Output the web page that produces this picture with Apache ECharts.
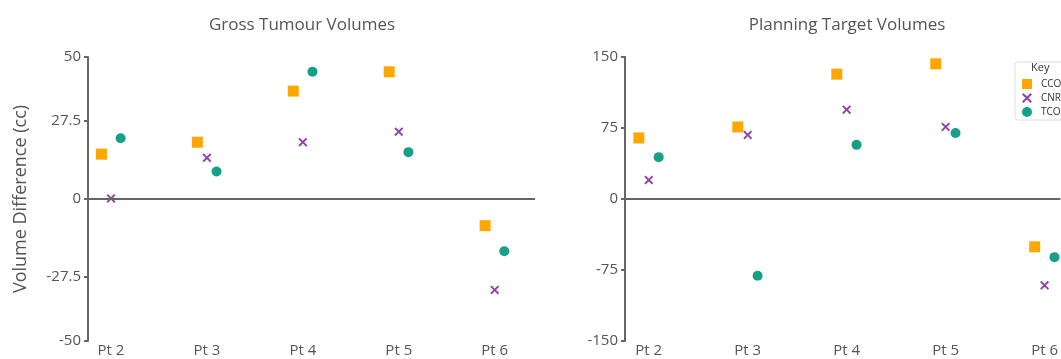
<!DOCTYPE html>
<html>
<head>
<meta charset="utf-8">
<script src="https://cdn.jsdelivr.net/npm/echarts@6/dist/echarts.min.js"></script>
<style>html,body{margin:0;padding:0;background:#fff}#c{width:1061px;height:359px}</style>
</head>
<body>
<div id="c"></div>
<script>
const categories = ['Pt 2', 'Pt 3', 'Pt 4', 'Pt 5', 'Pt 6'];
const seriesNames = ['CCO', 'CNR', 'TCO'];
// Gross Tumour Volumes
const gtvCCO = [15.8, 20.0, 38.0, 44.8, -9.4];
const gtvCNR = [0.2, 14.5, 20.0, 23.7, -32.0];
const gtvTCO = [21.4, 9.7, 44.8, 16.5, -18.4];
// Planning Target Volumes
const ptvCCO = [64.5, 76.1, 131.9, 142.8, -50.5];
const ptvCNR = [20.0, 67.7, 94.4, 76.1, -91.2];
const ptvTCO = [44.2, -81.0, 57.2, 69.8, -61.4];
const gtvTicks = [-50, -27.5, 0, 27.5, 50];
const ptvTicks = [-150, -75, 0, 75, 150];
const offsets = [-0.1, 0, 0.1];

const colors = ['#FFA600', '#8E44AD', '#16A085'];
const xPath = 'path://M1.5,0 L5,3.5 L8.5,0 L10,1.5 L6.5,5 L10,8.5 L8.5,10 L5,6.5 L1.5,10 L0,8.5 L3.5,5 L0,1.5 Z';
const symbols = ['rect', xPath, 'circle'];
const sizes = [11, 9, 10];
const font = '"Open Sans", "Noto Sans", sans-serif';
const axisColor = '#666';
const textColor = '#555';

function pts(arr, k) {
  return arr.map((v, i) => [i + offsets[k], v]);
}

function xAxis(idx, max) {
  return {
    type: 'value', gridIndex: idx, min: -0.24, max: max,
    axisLine: {show: false, onZero: false}, axisTick: {show: false}, splitLine: {show: false},
    axisLabel: {
      customValues: [0, 1, 2, 3, 4],
      formatter: v => categories[Math.round(v)],
      color: textColor, fontSize: 15, fontFamily: font, margin: 2
    }
  };
}
function yAxis(idx, min, max, ticks, name) {
  return {
    type: 'value', gridIndex: idx, min: min, max: max,
    name: name, nameLocation: 'middle', nameGap: 58,
    nameTextStyle: {color: textColor, fontSize: 18, fontFamily: font},
    axisLine: {show: true, onZero: false, lineStyle: {color: axisColor, width: 2}},
    axisTick: {show: true, length: 4, customValues: ticks, lineStyle: {color: axisColor, width: 2}},
    splitLine: {show: false},
    axisLabel: {customValues: ticks, color: textColor, fontSize: 15, fontFamily: font, margin: 7}
  };
}

const data = [[gtvCCO, gtvCNR, gtvTCO], [ptvCCO, ptvCNR, ptvTCO]];
const series = [];
data.forEach((group, g) => {
  group.forEach((arr, k) => {
    const s = {
      name: seriesNames[k], type: 'scatter', xAxisIndex: g, yAxisIndex: g,
      data: pts(arr, k), symbol: symbols[k], symbolSize: sizes[k],
      itemStyle: {color: colors[k], opacity: 1}
    };
    if (k === 0) {
      s.markLine = {
        silent: true, symbol: 'none', label: {show: false},
        lineStyle: {color: axisColor, width: 2, type: 'solid'},
        data: [{yAxis: 0}]
      };
    }
    series.push(s);
  });
});

const chart = echarts.init(document.getElementById('c'));
chart.setOption({
  animation: false,
  title: [
    {text: 'Gross Tumour Volumes', left: 297, top: 12, textAlign: 'center',
     textStyle: {color: textColor, fontSize: 17, fontWeight: 'normal', fontFamily: font}},
    {text: 'Planning Target Volumes', left: 842, top: 12, textAlign: 'center',
     textStyle: {color: textColor, fontSize: 17, fontWeight: 'normal', fontFamily: font}}
  ],
  grid: [
    {left: 88, right: 526, top: 57, bottom: 18, containLabel: false},
    {left: 625, right: 0, top: 57, bottom: 18, containLabel: false}
  ],
  xAxis: [xAxis(0, 4.42), xAxis(1, 4.16)],
  yAxis: [yAxis(0, -50, 50, gtvTicks, 'Volume Difference (cc)'), yAxis(1, -150, 150, ptvTicks, '')],
  legend: {
    orient: 'vertical', left: 1015, top: 62,
    data: seriesNames,
    itemWidth: 10, itemHeight: 10, itemGap: 4,
    padding: [17, 20, 3, 7],
    borderColor: '#ddd', borderWidth: 1, borderRadius: 3,
    textStyle: {fontSize: 10, color: '#333', fontFamily: font, padding: [0, 0, 0, 4]}
  },
  graphic: [
    {type: 'text', left: 1031, top: 62, style: {text: 'Key', fontSize: 11, fill: '#333', fontFamily: font}}
  ],
  series: series
});
</script>
</body>
</html>
